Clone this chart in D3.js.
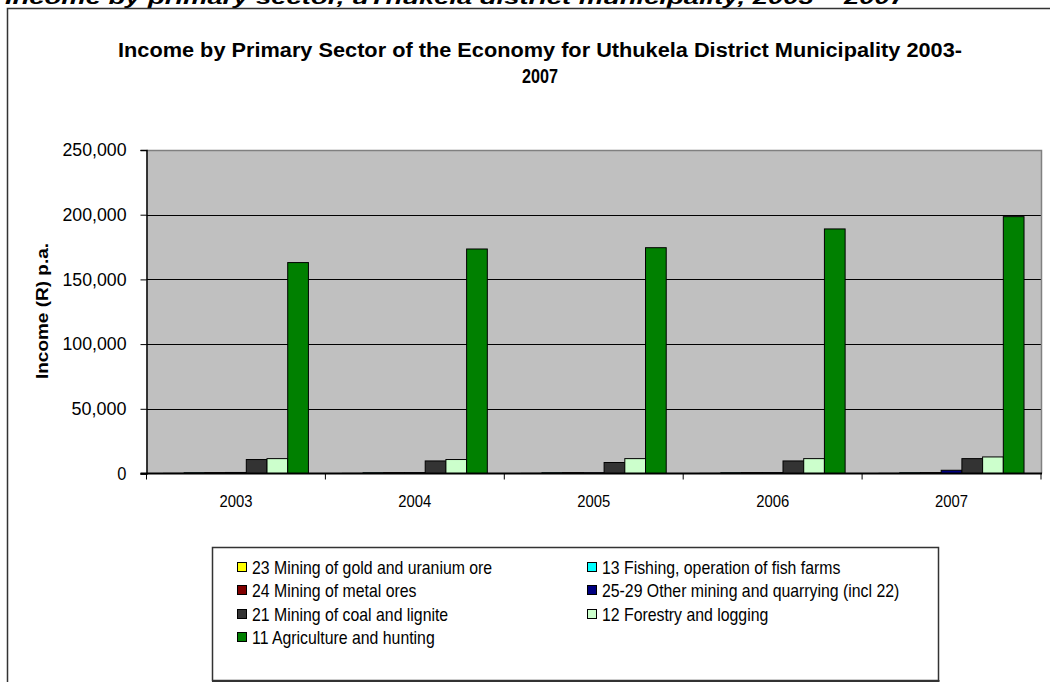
<!DOCTYPE html>
<html>
<head>
<meta charset="utf-8">
<script src="https://cdn.jsdelivr.net/npm/d3@7"></script>
<style>
  html, body { margin: 0; padding: 0; background: #fff; overflow: hidden; }
  svg { display: block; font-family: "Liberation Sans", Arial, sans-serif; }
</style>
</head>
<body>
<svg id="chart" width="1050" height="682"></svg>
<script>
// ---- data ----
const years = ["2003", "2004", "2005", "2006", "2007"];
const seriesNames = [
  "23 Mining of gold and uranium ore",
  "13 Fishing, operation of fish farms",
  "24 Mining of metal ores",
  "25-29 Other mining and quarrying (incl 22)",
  "21 Mining of coal and lignite",
  "12 Forestry and logging",
  "11 Agriculture and hunting"
];
const seriesColors = ["#FFFF00", "#00FFFF", "#800000", "#000080", "#333333", "#CCFFCC", "#008000"];
const gold23     = [100, 100, 100, 100, 100];
const fishing13  = [600, 600, 600, 600, 600];
const metal24    = [700, 700, 700, 700, 700];
const other2529  = [800, 700, 600, 700, 2500];
const coal21     = [10800, 9700, 8500, 9700, 11500];
const forestry12 = [11500, 10800, 11500, 11500, 12800];
const agri11     = [163000, 173500, 174500, 189000, 198500];
const seriesValues = [gold23, fishing13, metal24, other2529, coal21, forestry12, agri11];
const yTicks = [0, 50000, 100000, 150000, 200000, 250000];

const headerText = "Income by primary sector, uThukela district municipality, 2003 \u2013 2007";
const titleLine1 = "Income by Primary Sector of the Economy for Uthukela District Municipality 2003-";
const titleLine2 = "2007";
const yAxisTitle = "Income (R) p.a.";

// ---- drawing ----
const svg = d3.select("#chart");
const condense = 0.88;

// page header (clipped at top)
svg.append("text")
  .attr("x", 5).attr("y", 4)
  .attr("font-size", 19).attr("font-weight", "bold").attr("font-style", "italic")
  .attr("textLength", 900).attr("lengthAdjust", "spacingAndGlyphs")
  .text(headerText);

// chart box
svg.append("rect")
  .attr("x", 7.5).attr("y", 8.5).attr("width", 1100).attr("height", 700)
  .attr("fill", "none").attr("stroke", "#333").attr("stroke-width", 1.5);

const plot = { left: 146.5, right: 1041, top: 150, bottom: 473.5 };

const y = d3.scaleLinear().domain([0, 250000]).range([plot.bottom, plot.top]);
const x0 = d3.scaleBand().domain(years).range([plot.left, plot.right]).padding(0);
const x1 = d3.scaleBand().domain(d3.range(seriesNames.length))
  .range([0, x0.bandwidth()]).paddingInner(0).paddingOuter(0.82);

// plot background
svg.append("rect")
  .attr("x", plot.left).attr("y", plot.top)
  .attr("width", plot.right - plot.left).attr("height", plot.bottom - plot.top)
  .attr("fill", "#C0C0C0");

// gridlines
svg.append("g").selectAll("line")
  .data(yTicks.filter(d => d > 0 && d < 250000))
  .join("line")
  .attr("x1", plot.left).attr("x2", plot.right)
  .attr("y1", d => Math.round(y(d)) + 0.5).attr("y2", d => Math.round(y(d)) + 0.5)
  .attr("stroke", "#000").attr("stroke-width", 1);

// plot border top & right (gray)
svg.append("path")
  .attr("d", `M${plot.left},${plot.top + 0.5}H${plot.right + 0.5}V${plot.bottom}`)
  .attr("fill", "none").attr("stroke", "#808080").attr("stroke-width", 1.5);

// bars
const groups = svg.append("g").selectAll("g")
  .data(years)
  .join("g")
  .attr("transform", d => `translate(${x0(d)},0)`);

groups.selectAll("rect")
  .data((yr, i) => seriesValues.map((vals, s) => ({ s, v: vals[i] })))
  .join("rect")
  .attr("x", d => x1(d.s))
  .attr("width", x1.bandwidth())
  .attr("y", d => y(d.v))
  .attr("height", d => plot.bottom - y(d.v))
  .attr("fill", d => seriesColors[d.s])
  .attr("stroke", "#000").attr("stroke-width", 1);

// y axis
const yAxis = d3.axisLeft(y).tickValues(yTicks).tickSize(6).tickPadding(14)
  .tickFormat(d3.format(","));
const yg = svg.append("g").attr("transform", `translate(${plot.left},0)`).call(yAxis);
yg.select(".domain").attr("stroke", "#000").attr("stroke-width", 1.5);
yg.selectAll(".tick line").attr("stroke", "#000");
yg.selectAll(".tick text").attr("font-size", 18).attr("fill", "#000")
  .attr("font-family", "Liberation Sans, Arial, sans-serif")
  .attr("textLength", 64).attr("lengthAdjust", "spacingAndGlyphs")
  .each(function(d) { d3.select(this).attr("textLength", d3.format(",")(d).length * 9.15); });

// x axis (ticks at category boundaries)
const xg = svg.append("g").attr("transform", `translate(0,${plot.bottom})`);
xg.append("line").attr("x1", plot.left - 6).attr("x2", plot.right + 1)
  .attr("stroke", "#000").attr("stroke-width", 2);
const boundaries = years.map(d => x0(d)).concat([x0(years[years.length - 1]) + x0.bandwidth()]);
xg.selectAll("line.b").data(boundaries).join("line").attr("class", "b")
  .attr("x1", d => d).attr("x2", d => d).attr("y1", 0).attr("y2", 6)
  .attr("stroke", "#000").attr("stroke-width", 1);
xg.selectAll("text").data(years).join("text")
  .attr("x", d => x0(d) + x0.bandwidth() / 2).attr("y", 33)
  .attr("text-anchor", "middle").attr("font-size", 17)
  .attr("textLength", 33).attr("lengthAdjust", "spacingAndGlyphs")
  .text(d => d);

// y axis title
svg.append("text")
  .attr("transform", "translate(48,311) rotate(-90)")
  .attr("text-anchor", "middle")
  .attr("font-size", 16).attr("font-weight", "bold")
  .attr("textLength", 136).attr("lengthAdjust", "spacingAndGlyphs")
  .text(yAxisTitle);

// chart title
svg.append("text").attr("x", 540).attr("y", 57).attr("text-anchor", "middle")
  .attr("font-size", 20).attr("font-weight", "bold")
  .attr("textLength", 844).attr("lengthAdjust", "spacingAndGlyphs")
  .text(titleLine1);
svg.append("text").attr("x", 540).attr("y", 83).attr("text-anchor", "middle")
  .attr("font-size", 20).attr("font-weight", "bold")
  .attr("textLength", 36).attr("lengthAdjust", "spacingAndGlyphs")
  .text(titleLine2);

// legend
const legend = svg.append("g");
legend.append("rect")
  .attr("x", 212.5).attr("y", 547.5).attr("width", 726).attr("height", 133)
  .attr("fill", "#fff").attr("stroke", "#333").attr("stroke-width", 1.5);
legend.append("line")
  .attr("x1", 212).attr("x2", 939.5).attr("y1", 681).attr("y2", 681)
  .attr("stroke", "#333").attr("stroke-width", 2);
const colX = [237, 587];
const rowY = [567, 590, 614, 637];
const items = legend.selectAll("g.item").data(seriesNames).join("g").attr("class", "item")
  .attr("transform", (d, i) => `translate(${colX[i % 2]},${rowY[Math.floor(i / 2)]})`);
items.append("rect")
  .attr("x", 0.5).attr("y", -4.5).attr("width", 9).attr("height", 9)
  .attr("fill", (d, i) => seriesColors[i]).attr("stroke", "#000").attr("stroke-width", 1);
items.append("text")
  .attr("transform", `translate(15,7) scale(${condense},1)`)
  .attr("font-size", 18)
  .text(d => d);
</script>
</body>
</html>
